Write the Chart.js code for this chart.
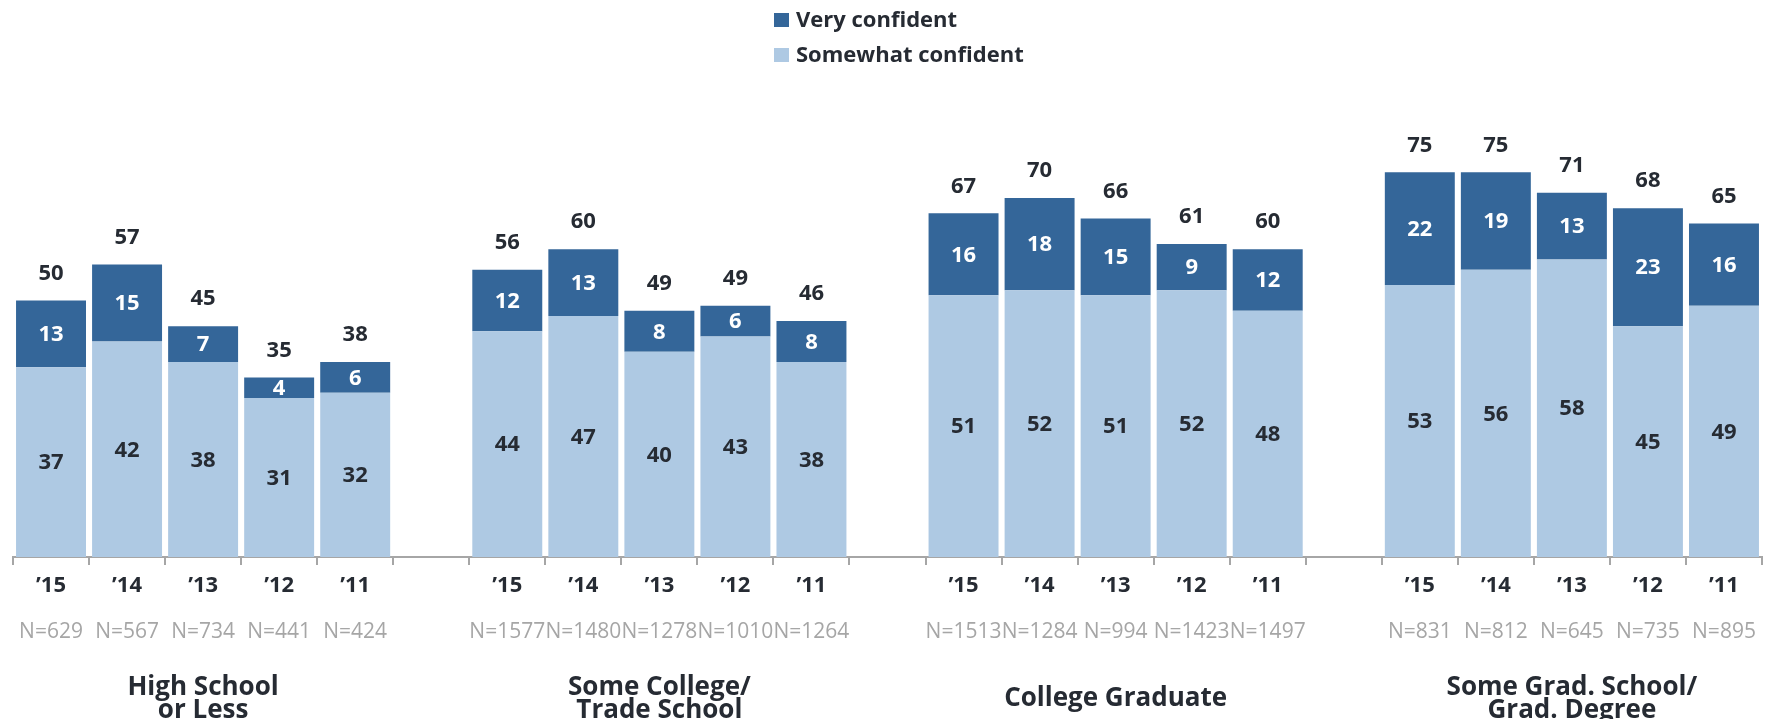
<!DOCTYPE html>
<html>
<head>
<meta charset="utf-8">
<script src="https://cdn.jsdelivr.net/npm/chart.js@4/dist/chart.umd.min.js"></script>
<style>
  html, body { margin: 0; padding: 0; background: #fff; }
  #wrap { width: 1768px; height: 719px; }
</style>
</head>
<body>
<div id="wrap"><canvas id="myChart"></canvas></div>
<script>
// confidence by education level, survey years '15 back to '11
const groups = [['High School', 'or Less'], ['Some College/', 'Trade School'], ['College Graduate'], ['Some Grad. School/', 'Grad. Degree']];
const years = ['’15', '’14', '’13', '’12', '’11'];
const somewhat = [[37, 42, 38, 31, 32], [44, 47, 40, 43, 38], [51, 52, 51, 52, 48], [53, 56, 58, 45, 49]];
const very = [[13, 15, 7, 4, 6], [12, 13, 8, 6, 8], [16, 18, 15, 9, 12], [22, 19, 13, 23, 16]];
const totals = [[50, 57, 45, 35, 38], [56, 60, 49, 49, 46], [67, 70, 66, 61, 60], [75, 75, 71, 68, 65]];
const sampleSizes = [[629, 567, 734, 441, 424], [1577, 1480, 1278, 1010, 1264], [1513, 1284, 994, 1423, 1497], [831, 812, 645, 735, 895]];

const dark = '#346699';
const light = '#aec9e3';
const textDark = '#262b33';
const font = '"Open Sans"';

// flatten the groups into one row of slots, with an empty slot between groups
function slots(rows, gap) {
  const out = [];
  rows.forEach((r, i) => {
    if (i > 0) out.push(gap);
    out.push(...r);
  });
  return out;
}

const labels = slots(groups.map(() => years), '');
const somewhatRow = slots(somewhat, null);
const veryRow = slots(very, null);
const totalRow = slots(totals, null);
const nRow = slots(sampleSizes, null);

const labelPlugin = {
  id: 'barLabels',
  afterDatasetsDraw(chart) {
    const { ctx, chartArea, scales: { x } } = chart;
    ctx.save();
    ctx.textAlign = 'center';
    ctx.textBaseline = 'middle';
    ctx.font = 'bold 22px ' + font;
    chart.data.datasets.forEach((ds, di) => {
      chart.getDatasetMeta(di).data.forEach((bar, i) => {
        if (ds.data[i] == null) return;
        ctx.fillStyle = ds.labelColor;
        ctx.fillText(ds.data[i], bar.x, (bar.y + bar.base) / 2 + 1);
      });
    });

    // totals above each stack
    const tops = chart.getDatasetMeta(1).data;
    ctx.fillStyle = textDark;
    totalRow.forEach((t, i) => {
      if (t == null) return;
      ctx.fillText(t, tops[i].x, tops[i].y - 27);
    });

    // sample sizes
    ctx.font = '21px ' + font;
    ctx.fillStyle = '#a6a6a6';
    nRow.forEach((n, i) => {
      if (n == null) return;
      ctx.fillText('N=' + n, x.getPixelForValue(i), chartArea.bottom + 75);
    });

    // group names under the middle bar of each group
    ctx.font = 'bold 26px ' + font;
    ctx.fillStyle = textDark;
    groups.forEach((g, gi) => {
      const cx = x.getPixelForValue(gi * 6 + 2);
      g.forEach((line, li) => {
        ctx.fillText(line, cx, chartArea.bottom + 142 + (li - (g.length - 1) / 2) * 23);
      });
    });

    // legend, stacked vertically, top series first
    ctx.textAlign = 'left';
    ctx.font = 'bold 22px ' + font;
    [chart.data.datasets[1], chart.data.datasets[0]].forEach((ds, i) => {
      const y = 20 + i * 35;
      ctx.fillStyle = ds.backgroundColor;
      ctx.fillRect(774, y - 7, 15, 14);
      ctx.fillStyle = textDark;
      ctx.fillText(ds.label, 796, y + 1);
    });
    ctx.restore();
  }
};

new Chart(document.getElementById('myChart'), {
  type: 'bar',
  data: {
    labels: labels,
    datasets: [{
      label: 'Somewhat confident',
      data: somewhatRow,
      backgroundColor: light,
      labelColor: textDark,
      barPercentage: 0.92,
      categoryPercentage: 1
    }, {
      label: 'Very confident',
      data: veryRow,
      backgroundColor: dark,
      labelColor: '#ffffff',
      barPercentage: 0.92,
      categoryPercentage: 1
    }]
  },
  options: {
    responsive: true,
    maintainAspectRatio: false,
    animation: false,
    devicePixelRatio: 1,
    layout: { padding: { left: 13, right: 6, top: 44, bottom: 111.6 } },
    plugins: {
      legend: { display: false },
      tooltip: { enabled: false }
    },
    scales: {
      x: {
        stacked: true,
        grid: { drawOnChartArea: false, drawTicks: true, tickLength: 8, color: '#a6a6a6', lineWidth: 2 },
        border: { display: true, color: '#a6a6a6', width: 2 },
        ticks: { color: textDark, font: { family: font, size: 22, weight: 'bold' }, padding: 8, autoSkip: false, maxRotation: 0 }
      },
      y: {
        stacked: true,
        display: false,
        min: 0,
        max: 100
      }
    }
  },
  plugins: [labelPlugin]
});
</script>
</body>
</html>
